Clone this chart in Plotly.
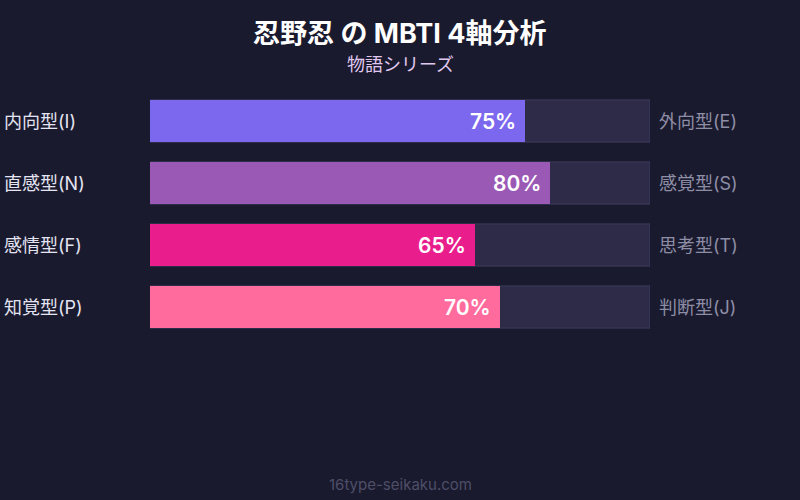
import plotly.graph_objects as go

# MBTI axis data
left_labels = ["内向型(I)", "直感型(N)", "感情型(F)", "知覚型(P)"]
right_labels = ["外向型(E)", "感覚型(S)", "思考型(T)", "判断型(J)"]
scores = [75, 80, 65, 70]
bar_colors = ["#7b68ee", "#9b59b6", "#e91e8c", "#ff6b9d"]
track_max = [100, 100, 100, 100]

FONT = "Inter, Noto Sans CJK JP, sans-serif"

fig = go.Figure()

# background track
fig.add_trace(go.Bar(
    x=track_max, y=left_labels, orientation="h", width=0.68,
    marker=dict(color="#2d2b47", line=dict(color="#3e3c5c", width=1), cornerradius=0),
    hoverinfo="skip", showlegend=False,
))

# filled bars
fig.add_trace(go.Bar(
    x=scores, y=left_labels, orientation="h", width=0.68,
    marker=dict(color=bar_colors, line=dict(width=0), cornerradius=8),
    hovertemplate="%{x}%<extra></extra>", showlegend=False,
))

annotations = []
for lab_l, lab_r, val in zip(left_labels, right_labels, scores):
    annotations.append(dict(
        x=val, y=lab_l, xref="x", yref="y", text="%d%%" % val,
        xanchor="right", xshift=-7, showarrow=False,
        font=dict(family=FONT, size=21, color="#ffffff", weight=600),
    ))
    annotations.append(dict(
        x=-0.296, y=lab_l, xref="paper", yref="y", text=lab_l,
        xanchor="left", showarrow=False,
        font=dict(family=FONT, size=18, color="#e4e4f2", weight=400),
    ))
    annotations.append(dict(
        x=1.014, y=lab_l, xref="paper", yref="y", text=lab_r,
        xanchor="left", showarrow=False,
        font=dict(family=FONT, size=18, color="#8e8ea6", weight=400),
    ))

fig.update_layout(
    width=800, height=500,
    paper_bgcolor="#1a1a2e", plot_bgcolor="#1a1a2e",
    barmode="overlay",
    margin=dict(l=150, r=150, t=90, b=162),
    xaxis=dict(range=[0, 100], visible=False, fixedrange=True),
    yaxis=dict(type="category", categoryorder="array", categoryarray=left_labels[::-1],
               range=[-0.5, 3.5], visible=False, fixedrange=True),
    annotations=annotations,
)

# title, subtitle and footer in pixel positions relative to the page
fig.add_annotation(x=0.5, y=1.0, xref="paper", yref="paper", yanchor="middle",
                   yshift=(90 - 33), text="<b>忍野忍 の MBTI 4軸分析</b>", showarrow=False,
                   font=dict(family=FONT, size=27, color="#ffffff"))
fig.add_annotation(x=0.5, y=1.0, xref="paper", yref="paper", yanchor="middle",
                   yshift=(90 - 64), text="物語シリーズ", showarrow=False,
                   font=dict(family=FONT, size=18, color="#e0c8f0"))
fig.add_annotation(x=0.5, y=0.0, xref="paper", yref="paper", yanchor="middle",
                   yshift=-(484 - 338), text="16type-seikaku.com", showarrow=False,
                   font=dict(family=FONT, size=15, color="#4e4e68"))

fig.write_html("out.html", config=dict(displayModeBar=False),
               post_script="document.body.style.margin='0';")
